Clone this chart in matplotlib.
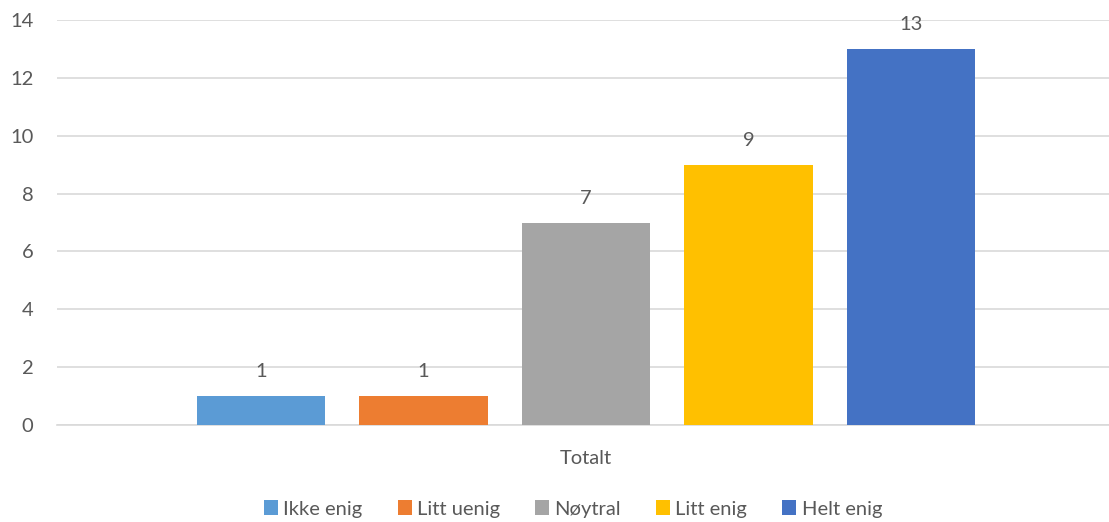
import matplotlib
matplotlib.use("Agg")
import matplotlib.pyplot as plt
from matplotlib.patches import Patch

categories = ["Ikke enig", "Litt uenig", "Nøytral", "Litt enig", "Helt enig"]
values = [1, 1, 7, 9, 13]
colors = ["#5B9BD5", "#ED7D31", "#A5A5A5", "#FFC000", "#4472C4"]
group_label = "Totalt"
yticks = [0, 2, 4, 6, 8, 10, 12, 14]

plt.rcParams["font.family"] = ["Lato", "DejaVu Sans"]
text_color = "#595959"
fs = 14.5

fig = plt.figure(figsize=(11.09, 5.22), dpi=100)
W, H = 1109, 522
left, right, top, bottom = 57, 1109, 20, 425
ax = fig.add_axes([left / W, 1 - bottom / H, (right - left) / W, (bottom - top) / H])

n = len(values)
positions = [i - (n - 1) / 2 for i in range(n)]
bars = ax.bar(positions, values, width=0.79, color=colors, zorder=3)
for x, v in zip(positions, values):
    ax.text(x, v + 0.55, str(v), ha="center", va="bottom", fontsize=fs, color=text_color)

ax.set_xlim(-3.255, 3.219)
ax.set_ylim(0, 14)
ax.set_yticks(yticks)
ax.set_yticklabels([str(t) for t in yticks], fontsize=fs, color=text_color)
ax.yaxis.grid(True, color="#D9D9D9", linewidth=1.2, zorder=0)
ax.tick_params(axis="y", length=0, pad=17)
ax.set_xticks([0])
ax.set_xticklabels([group_label], fontsize=fs, color=text_color)
ax.tick_params(axis="x", length=0, pad=18)
for side in ["top", "right", "left"]:
    ax.spines[side].set_visible(False)
ax.spines["bottom"].set_color("#D9D9D9")
ax.spines["bottom"].set_linewidth(1.2)

handles = [Patch(facecolor=c, edgecolor="none") for c in colors]
fig.legend(handles, categories, loc="center", bbox_to_anchor=(573 / W, 1 - 509 / H),
           ncol=n, frameon=False, fontsize=fs, handlelength=0.7, handleheight=0.7,
           handletextpad=0.25, columnspacing=1.75, labelcolor=text_color)

fig.savefig("out.png", dpi=100)
